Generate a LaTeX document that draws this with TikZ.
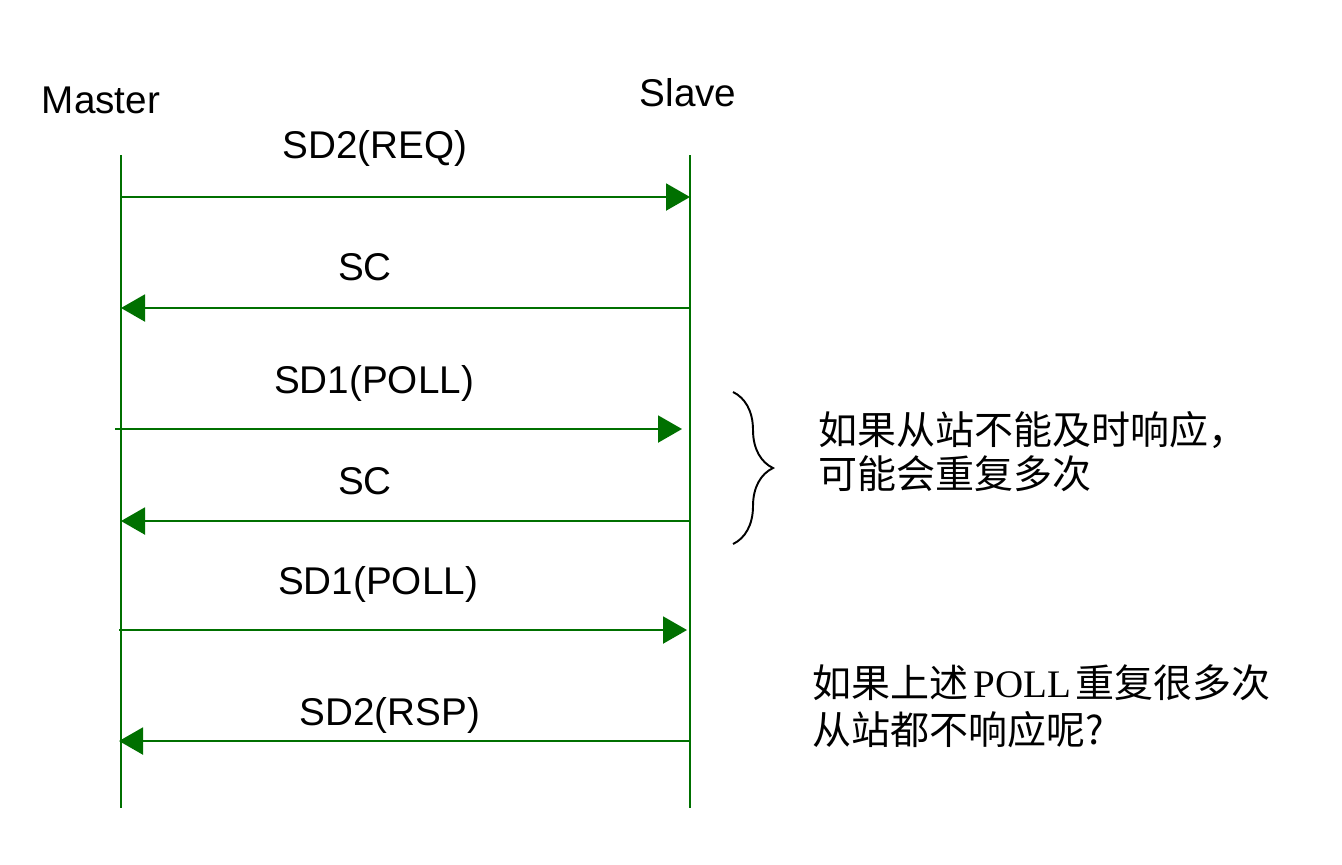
\documentclass[tikz,border=0pt]{standalone}
\usepackage{fontspec}
\setmainfont{Liberation Sans}
\newfontfamily\cjkfont{Noto Sans CJK SC}
\newfontfamily\latinserif{Liberation Serif}
\usepackage{tikz}
\usetikzlibrary{positioning, arrows.meta, decorations.pathreplacing}
\definecolor{seqgreen}{RGB}{0,112,0}

\begin{document}
\begin{tikzpicture}[x=0.1mm, y=-0.1mm,
	lifeline/.style={draw=seqgreen, line width=0.6pt},
	msg/.style={draw=seqgreen, line width=0.6pt, -{Triangle[length=2.4mm, width=2.7mm]}, seqgreen},
	msglabel/.style={font=\fontsize{11}{13}\selectfont, inner sep=0pt},
	note/.style={font=\cjkfont\fontsize{11.1}{12.5}\selectfont, align=left, anchor=west, inner sep=0pt}]
				\useasboundingbox (0,0) rectangle (1342,864);
				
				% lifelines
				\node[msglabel] (master) at (101,100) {Master};
				\node[msglabel] (slave) at (688,93) {Slave};
				\coordinate (mtop) at (121,155);
				\coordinate (mbot) at (121,808);
				\coordinate (stop) at (690,155);
				\coordinate (sbot) at (690,808);
				\draw[lifeline] (mtop) -- (mbot);
				\draw[lifeline] (stop) -- (sbot);
				
				% messages
				\coordinate (m1) at (121,197);  \coordinate (s1) at (690,197);
				\coordinate (m2) at (121,308);  \coordinate (s2) at (690,308);
				\coordinate (m3) at (115,429);  \coordinate (s3) at (682,429);
				\coordinate (m4) at (121,521);  \coordinate (s4) at (690,521);
				\coordinate (m5) at (119,630);  \coordinate (s5) at (687,630);
				\coordinate (m6) at (119,741);  \coordinate (s6) at (689,741);
				\draw[msg] (m1) -- (s1);
				\draw[msg] (s2) -- (m2);
				\draw[msg] (m3) -- (s3);
				\draw[msg] (s4) -- (m4);
				\draw[msg] (m5) -- (s5);
				\draw[msg] (s6) -- (m6);
				
				\node[msglabel] (req) at (375,148) {SD2(REQ)};
				\node[msglabel] (sca) at (365,267) {SC};
				\node[msglabel] (polla) at (374,383) {SD1(POLL)};
				\node[msglabel] (scb) at (365,481) {SC};
				\node[msglabel] (pollb) at (378,584) {SD1(POLL)};
				\node[msglabel] (rsp) at (390,715) {SD2(RSP)};
				
				% repeat note
				\coordinate (btop) at (733,392);
				\coordinate (bbot) at (733,544);
				\draw[decorate, decoration={brace, amplitude=4mm}, line width=0.55pt] (btop) -- (bbot);
				\node[note] (repeat) at (818,452) {如果从站不能及时响应，\\可能会重复多次};
				\node[note, font=\cjkfont\fontsize{11.1}{13.4}\selectfont] (noresp) at (812,706) {如果上述\hspace{0.12em}{\latinserif POLL}\hspace{0.12em}重复很多次\\从站都不响应呢?};
\end{tikzpicture}
\end{document}
